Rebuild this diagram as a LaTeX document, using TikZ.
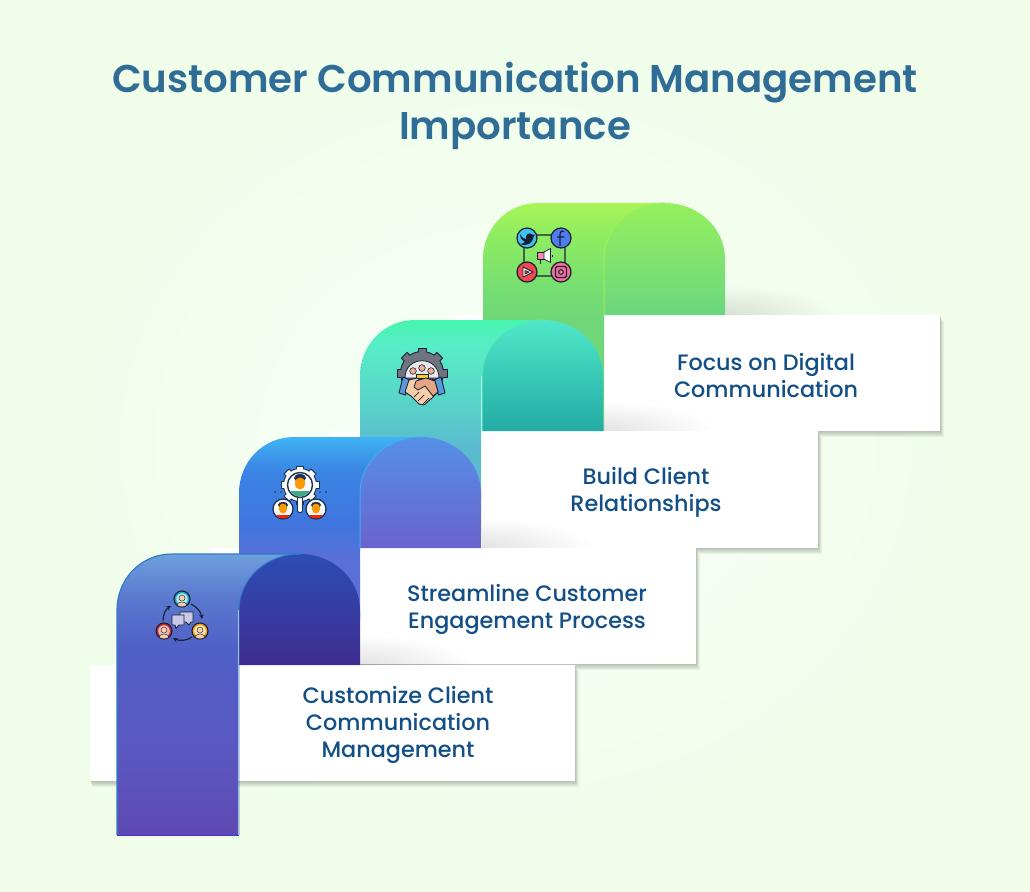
\documentclass[tikz,border=0pt]{standalone}
\usepackage{fontspec}
\setmainfont{Poppins Medium}
\newfontfamily\titlefont{Poppins SemiBold}
\definecolor{bgin}{HTML}{F9FFF8}\definecolor{bgout}{HTML}{EFFDE9}
\definecolor{titlec}{HTML}{2F6D96}\definecolor{bodyc}{HTML}{124F86}
\definecolor{ink}{HTML}{1B1F33}\definecolor{skin}{HTML}{F6CFA8}
\definecolor{inkb}{HTML}{1F3350}
\definecolor{aa}{HTML}{5F49B3}\definecolor{ab}{HTML}{5A58C0}\definecolor{ac}{HTML}{4F5FC6}\definecolor{ad}{HTML}{5A78CE}\definecolor{ae}{HTML}{6E9FDC}
\definecolor{ba}{HTML}{5B6FD8}\definecolor{bb}{HTML}{3F76DF}\definecolor{bc}{HTML}{3B85E4}\definecolor{bd}{HTML}{3FB4F4}
\definecolor{ca}{HTML}{5ABBCF}\definecolor{cb}{HTML}{58D5C8}\definecolor{cc}{HTML}{58EDC8}\definecolor{cd}{HTML}{46F5AE}
\definecolor{da}{HTML}{6FD67A}\definecolor{db}{HTML}{72DC75}\definecolor{dc}{HTML}{8BEB62}\definecolor{dd}{HTML}{A8F558}
\definecolor{archAtop}{HTML}{2C4DB5}\definecolor{archAbot}{HTML}{3F2D8F}\definecolor{edgeA}{HTML}{2E7DC8}
\definecolor{archBtop}{HTML}{5590E8}\definecolor{archBbot}{HTML}{6B63CC}\definecolor{edgeB}{HTML}{3AB0F0}
\definecolor{archCtop}{HTML}{50E8C8}\definecolor{archCbot}{HTML}{22ABA5}\definecolor{edgeC}{HTML}{4FEFB5}
\definecolor{archDtop}{HTML}{95F05C}\definecolor{archDbot}{HTML}{6BD680}\definecolor{edgeD}{HTML}{A0F055}
\definecolor{twit}{HTML}{3FC3F0}\definecolor{fbk}{HTML}{4F7DF0}\definecolor{ytb}{HTML}{F04A50}\definecolor{insta}{HTML}{F0709A}\definecolor{mega}{HTML}{F58CA8}
\definecolor{gearc}{HTML}{6E7480}\definecolor{cuff}{HTML}{5A9BE0}\definecolor{handb}{HTML}{E8A585}\definecolor{gold}{HTML}{F5CF2E}\definecolor{teamb}{HTML}{5A9BE0}
\definecolor{shirt}{HTML}{3DAA85}
\definecolor{tealp}{HTML}{12A8C8}\definecolor{redp}{HTML}{C8282E}\definecolor{amberp}{HTML}{F2A60C}\definecolor{bubble}{HTML}{C9C9E8}
\definecolor{shadowc}{HTML}{5A6A58}
\pgfdeclareverticalshading{bandA}{100bp}{color(0bp)=(aa);color(25bp)=(aa);color(40bp)=(ab);color(58bp)=(ac);color(67bp)=(ad);color(75bp)=(ae);color(100bp)=(ae)}
\pgfdeclareverticalshading{bandB}{100bp}{color(0bp)=(ba);color(25bp)=(ba);color(41bp)=(ba);color(52bp)=(bb);color(66bp)=(bc);color(75bp)=(bd);color(100bp)=(bd)}
\pgfdeclareverticalshading{bandC}{100bp}{color(0bp)=(ca);color(25bp)=(ca);color(40bp)=(ca);color(53bp)=(cb);color(68bp)=(cc);color(75bp)=(cd);color(100bp)=(cd)}
\pgfdeclareverticalshading{bandD}{100bp}{color(0bp)=(da);color(25bp)=(da);color(52bp)=(da);color(57bp)=(db);color(68bp)=(dc);color(75bp)=(dd);color(100bp)=(dd)}
\tikzset{
  boxfill/.style={fill=white,draw=none},
  txt/.style={font=\fontsize{22.3}{27}\selectfont,text=bodyc,align=center,inner sep=0pt},
  iconline/.style={draw=ink,line width=1.2pt},
}
\newcommand{\softbox}[4]{%
  \foreach \d in {6,5,4,3,2,1}{\fill[shadowc,opacity=0.075] (#1+\d*0.3,#2+\d) rectangle (#3+\d*0.6,#4+\d);}
  \fill[boxfill] (#1,#2) rectangle (#3,#4);}
\newcommand{\topglow}[2]{%
  \begin{scope}
  \clip (#1,#2) rectangle (#1+135,#2-45);
  \foreach \k in {1,...,30}{\fill[black,opacity=0.005] (#1-5,#2+2) ellipse[x radius={3.9*\k},y radius={1.05*\k}];}
  \end{scope}}
\newcommand{\bandshape}[3]{%
  (#1,#3) -- (#1,#2+56) .. controls (#1,#2+25) and (#1+24,#2) .. (#1+55,#2) -- (#1+185,#2) -- (#1+185,#2+56) -- (#1+121,#2+56) -- (#1+121,#3) -- cycle}
\newcommand{\archshape}[3]{%
  (#1,#3) -- (#1,#2+56) .. controls (#1,#2+25) and (#1+27,#2) .. (#1+61,#2) .. controls (#1+94,#2) and (#1+121,#2+25) .. (#1+121,#2+56) -- (#1+121,#3) -- cycle}
\newcommand{\person}[4]{%
  \begin{scope}
  \fill[#4,draw=ink,line width=1.1pt] (#1,#2) circle[radius=#3];
  \clip (#1,#2) circle[radius=#3-0.5];
  \fill[#4!30!white] (#1,#2) circle[radius=#3*0.72];
  \fill[skin,draw=ink,line width=0.4pt] (#1,#2-#3*0.12) circle[radius=#3*0.38];
  \fill[skin,draw=ink,line width=0.4pt] (#1,#2+#3*1.0) ellipse[x radius=#3*0.72,y radius=#3*0.62];
  \end{scope}}
\newcommand{\faceperson}[3]{%
  \begin{scope}
  \fill[white,draw=inkb,line width=1.3pt] (#1,#2) circle[radius=#3];
  \clip (#1,#2) circle[radius=#3-0.6];
  \fill[red!75!orange] (#1-#3,#2+#3*0.58) rectangle (#1+#3,#2+#3);
  \fill[inkb] (#1,#2-#3*0.4) ellipse[x radius=#3*0.5,y radius=#3*0.32];
  \fill[orange!80!yellow] (#1,#2-#3*0.05) ellipse[x radius=#3*0.42,y radius=#3*0.5];
  \end{scope}}
\begin{document}
\begin{tikzpicture}[x=1pt,y=-1pt]
\useasboundingbox (0,0) rectangle (1030,891);
\shade[inner color=bgin,outer color=bgout] (0,0) rectangle (1030,891);
\node[font=\fontsize{38.7}{47}\selectfont\titlefont,text=titlec,align=center,inner sep=0pt] (title) at (515,105.5) {Customer Communication Management\\Importance};

% ---------- step 4
\topglow{725}{315}
\softbox{454}{315}{940}{431}
\shade[shading=bandD] \bandshape{483}{203}{470};
\shade[top color=archDtop,bottom color=archDbot] \archshape{604}{203}{315};
\draw[color=edgeD,line width=1pt] (604,315) -- (604,259) .. controls (604,228) and (631,203) .. (665,203);
\node[txt] (t4) at (766,375.5) {Focus on Digital\\Communication};
\draw[iconline,rounded corners=8pt] (524,235) rectangle (565,276);
\fill[twit,iconline] (527,238) circle[radius=10];
\fill[fbk,iconline] (561,238) circle[radius=10];
\fill[ytb,iconline] (527,272) circle[radius=10];
\fill[insta,iconline] (561,272) circle[radius=10];
\fill[ink] (520,234) .. controls (522,238) and (524,239) .. (526,239) .. controls (525,235) and (529,231) .. (533,235) -- (535,234.5) -- (533.5,237) .. controls (533,243) and (527,247) .. (520,244) .. controls (522,244) and (524,243) .. (525,242) .. controls (522,241) and (520,238) .. (520,234) -- cycle;
\draw[ink,line width=1.2pt] (564,231.5) .. controls (561,230.5) and (560,232) .. (560,235) -- (560,246) (557,237) -- (564,237);
\fill[white,draw=ink,line width=0.9pt,line join=round] (523,267) -- (533,272) -- (523,277) -- cycle;
\fill[ytb,draw=ink,line width=0.7pt] (525,270.5) -- (529,272) -- (525,274) -- cycle;
\draw[ink,line width=1.1pt,rounded corners=1.5pt] (555.5,266.5) rectangle (566.5,277.5);
\draw[ink,line width=1pt] (561,272) circle[radius=2.4];
\fill[mega,draw=ink,line width=0.7pt] (537.5,252) rectangle (544,259);
\fill[white,draw=ink,line width=0.7pt] (544,252) -- (550.5,248.5) -- (550.5,262.5) -- (544,259) -- cycle;
\draw[ink,line width=0.9pt] (540,259) -- (540,264) (552,255) -- (552,257);

% ---------- step 3
\topglow{604}{431}
\softbox{332}{431}{818}{548}
\shade[shading=bandC] \bandshape{360}{320}{500};
\shade[top color=archCtop,bottom color=archCbot] \archshape{482}{320}{431};
\draw[color=edgeC,line width=1pt] (482,431) -- (482,376) .. controls (482,345) and (509,320) .. (543,320);
\node[txt] (t3) at (646,492.5) {Build Client\\Relationships};
\foreach \a in {0,45,...,315}{\fill[ink,rotate around={\a:(422,373)}] (417.5,347.5) rectangle (426.5,360);}
\fill[ink] (422,373) circle[radius=22];
\foreach \a in {0,45,...,315}{\fill[gearc,rotate around={\a:(422,373)}] (418.5,348.5) rectangle (425.5,360);}
\fill[gearc] (422,373) circle[radius=21];
\fill[white!85!gearc,draw=ink,line width=0.8pt] (405,378) .. controls (405,355) and (439,355) .. (439,378) -- cycle;
\foreach \x/\yy in {413/371,422/368,431/371}{\fill[teamb,draw=ink,line width=0.6pt] (\x-3.6,\yy+14) -- (\x-3.6,\yy+8) -- (\x+3.6,\yy+8) -- (\x+3.6,\yy+14) -- cycle;
 \fill[handb!70!skin,draw=ink,line width=0.6pt] (\x,\yy) circle[radius=3.3];}
\fill[gold,draw=ink,line width=0.6pt] (416,374) rectangle (428,378);
\fill[cuff,draw=ink,line width=0.9pt,line join=round] (403,377) -- (410,380) -- (405.5,395) -- (399,393) -- cycle;
\fill[cuff,draw=ink,line width=0.9pt,line join=round] (441,377) -- (434,380) -- (438.5,395) -- (445,393) -- cycle;
\fill[skin,draw=ink,line width=0.9pt,line join=round] (409,380) -- (417,378) -- (421,381) -- (435,381) -- (438,392) -- (432,398) -- (424,405) -- (419,404) -- (411,396) -- (405,392) -- cycle;
\fill[handb,draw=ink,line width=0.8pt,line join=round] (416,381) -- (426,378) -- (435,381) -- (438,392) -- (433,396) -- (425,386) -- (418,390) -- (414,387) -- cycle;
\draw[ink,line width=0.7pt] (414,397) -- (419,392) (418,401) -- (424,395) (423,404) -- (429,398);

% ---------- step 2
\topglow{482}{548}
\softbox{211}{548}{696}{664}
\shade[shading=bandB] \bandshape{239}{437}{620};
\shade[top color=archBtop,bottom color=archBbot] \archshape{360}{437}{548};
\draw[color=edgeB,line width=1pt] (360,548) -- (360,493) .. controls (360,462) and (387,437) .. (421,437);
\node[txt] (t2) at (527,609) {Streamline Customer\\Engagement Process};
\foreach \a in {0,45,...,315}{\fill[inkb,rotate around={\a:(300,485)}] (296,465.5) rectangle (304,475);}
\fill[inkb] (300,485) circle[radius=17];
\foreach \a in {0,45,...,315}{\fill[white,rotate around={\a:(300,485)}] (297,466.5) rectangle (303,475);}
\fill[white] (300,485) circle[radius=16];
\draw[white,line width=5pt,line cap=round] (300,497) -- (300,510);
\draw[inkb,line width=0.8pt,rounded corners=1.5pt] (297.5,498) -- (297.5,512.5) -- (302.5,512.5) -- (302.5,498);
\begin{scope}
\fill[white,draw=inkb,line width=1.4pt] (300,485) circle[radius=12.5];
\clip (300,485) circle[radius=11.5];
\fill[shirt] (288,491) rectangle (312,498);
\fill[inkb] (300,478) ellipse[x radius=6,y radius=4];
\fill[orange!80!yellow] (300,483.5) ellipse[x radius=5,y radius=6];
\end{scope}
\faceperson{283}{509}{10}
\faceperson{316}{509}{10}
\foreach \x in {275,281,320,326}{\fill[inkb] (\x,492) circle[radius=0.9];}

% ---------- step 1
\topglow{360}{665}
\softbox{90}{665}{575}{781}
\shade[shading=bandA] \bandshape{117}{554}{835};
\shade[top color=archAtop,bottom color=archAbot] \archshape{239}{554}{665};
\draw[color=edgeA,line width=1.2pt] (117,835) -- (117,610) .. controls (117,579) and (141,554) .. (172,554) -- (300,554);
\draw[color=edgeA,line width=0.8pt] (239,835) -- (239,610) .. controls (239,579) and (266,554) .. (300,554);
\draw[color=aa!70!blue,line width=0.8pt] (117,835) -- (239,835);
\node[txt] (t1) at (398,725) {Customize Client\\Communication\\Management};
\person{182}{599}{8}{tealp}
\person{164}{631}{8}{redp}
\person{200}{631}{8}{amberp}
\draw[-stealth,ink,line width=1.1pt] (163,621) .. controls (163,614) and (166,609) .. (171,606);
\draw[-stealth,ink,line width=1.1pt] (191,604) .. controls (197,607) and (201,612) .. (202,619);
\draw[-stealth,ink,line width=1.1pt] (192,637) .. controls (187,641) and (179,641) .. (173,638);
\fill[bubble,draw=ink,line width=0.8pt,line join=round] (180,612) -- (193,612) -- (193,622) -- (191,622) -- (189,625) -- (186,622) -- (180,622) -- cycle;
\fill[bubble,draw=ink,line width=0.8pt,line join=round] (172,615) -- (184,615) -- (184,625) -- (179,625) -- (176,628.5) -- (175,625) -- (172,625) -- cycle;
\end{tikzpicture}
\end{document}
